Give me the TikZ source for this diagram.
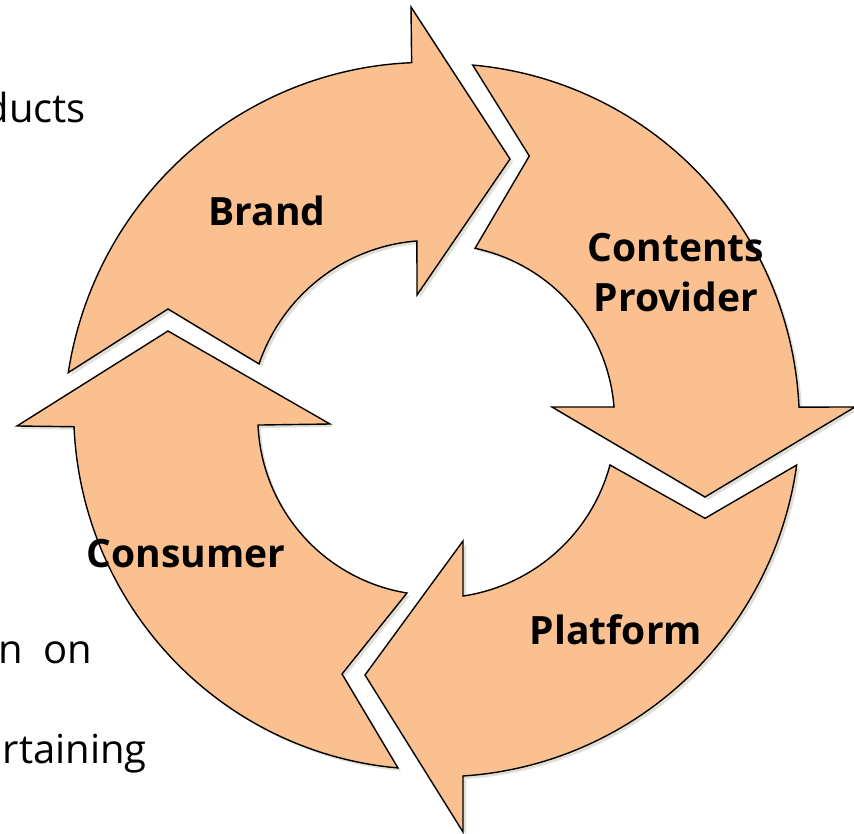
\documentclass[tikz,border=0pt]{standalone}
\usepackage{fontspec}
\setmainfont{Open Sans}
\usetikzlibrary{shadows}
\definecolor{arrowfill}{RGB}{250,192,144}
\definecolor{shadowgray}{RGB}{226,224,214}
\begin{document}
\begin{tikzpicture}[
        x=1pt, y=-1pt,
        every node/.style={inner sep=0pt},
        cyclearrow/.style={draw=black, line width=1.4pt, fill=arrowfill,
            drop shadow={shadow xshift=3pt, shadow yshift=-3pt, fill=shadowgray, opacity=1}},
        spiral/.style n args={4}{insert path={-- plot[domain=#1:#3, samples=60, variable=\t]
            ({436.5+(#2+(#4-#2)*(\t-#1)/(#3-#1))*cos(\t)}, {418.5-(#2+(#4-#2)*(\t-#1)/(#3-#1))*sin(\t)})}},
        arrowtext/.style={font=\bfseries\fontsize{39}{50}\selectfont, align=center},
        frag/.style={font=\fontsize{40}{48}\selectfont, anchor=base east}
    ]
    \useasboundingbox (0,0) rectangle (854,834);

    % Arrows (tail notch -> outer edge -> head -> inner edge)
    \draw[cyclearrow] (168,309) [spiral={172.9}{371.1}{94.0}{356.7}]
        -- (411,7) -- (510,159) -- (417,295) [spiral={96.3}{178.6}{162.9}{185.7}] -- cycle;
    \draw[cyclearrow] (529.3,156) [spiral={84.15}{355.3}{1.8}{362.7}]
        -- (855,407) -- (705,497) -- (552,407) [spiral={3.7}{177.9}{77.25}{174.5}] -- cycle;
    \draw[cyclearrow] (705,518.3) [spiral={-7.36}{363.2}{-85.76}{358.5}]
        -- (463,832) -- (365,675) -- (463,541) [spiral={-81.5}{179.5}{-15.0}{179.6}] -- cycle;
    \draw[cyclearrow] (342,674) [spiral={263.7}{351.6}{181.3}{362.6}]
        -- (17,426) -- (168,331) -- (330,424) [spiral={182.1}{178.6}{260.4}{177}] -- cycle;

    % Labels
    \node[arrowtext] (brand) at (267,211) {Brand};
    \node[arrowtext] (contents) at (676,273) {Contents\\Provider};
    \node[arrowtext] (platform) at (616,630) {Platform};
    \node[arrowtext] (consumer) at (186,554) {Consumer};

    % Cut-off text on the left
    \node[frag] (fragtop) at (86,123) {ducts};
    \node[frag] (fragmid) at (92,663) {n\hspace{0.25em} on};
    \node[frag] (fragbot) at (147,763) {rtaining};

\end{tikzpicture}
\end{document}
